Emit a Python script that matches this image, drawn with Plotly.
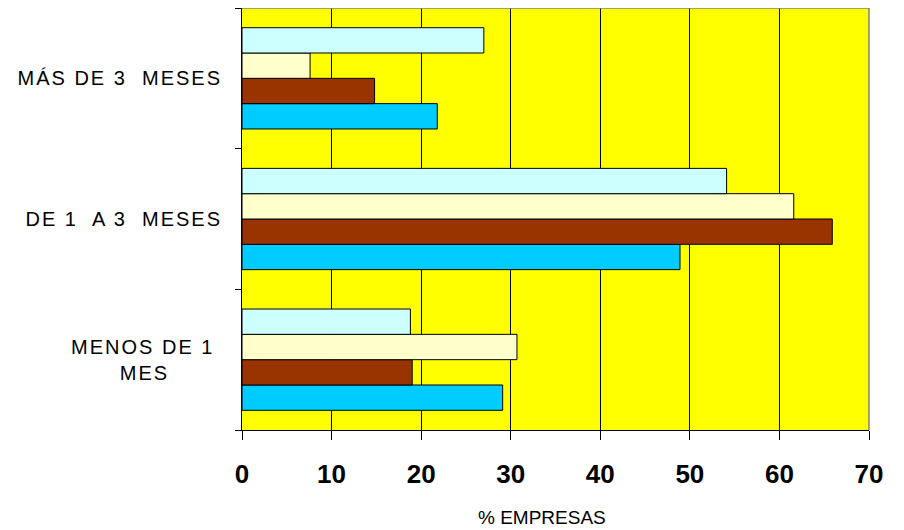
import plotly.graph_objects as go

categories = ["MENOS DE 1<br>MES", "DE 1  A 3  MESES", "MÁS DE 3  MESES"]
category_labels = ["MENOS DE 1\u00a0<br>MES" + "\u00a0" * 7, "DE 1  A 3  MESES", "MÁS DE 3  MESES"]
serie_cyan = [29.1, 48.9, 21.8]
serie_brown = [19.0, 65.9, 14.8]
serie_cream = [30.7, 61.6, 7.6]
serie_lightcyan = [18.8, 54.1, 27.0]
x_ticks = [0, 10, 20, 30, 40, 50, 60, 70]

series = [
    ("Serie 1", serie_cyan, "#00CCFF"),
    ("Serie 2", serie_brown, "#993300"),
    ("Serie 3", serie_cream, "#FFFFCC"),
    ("Serie 4", serie_lightcyan, "#CCFFFF"),
]

fig = go.Figure()
for name, vals, col in series:
    fig.add_trace(go.Bar(
        y=categories, x=vals, name=name, orientation="h",
        marker=dict(color=col, line=dict(color="#000000", width=1)),
    ))

fig.update_layout(
    width=904, height=530,
    margin=dict(l=234, r=43, t=0, b=108),
    paper_bgcolor="white",
    plot_bgcolor="#FFFF00",
    barmode="group",
    bargap=0.28,
    bargroupgap=0,
    showlegend=False,
    font=dict(family="Liberation Sans, Arial, sans-serif", color="#000000"),
)

fig.update_xaxes(
    range=[0, 70],
    tickvals=x_ticks,
    ticktext=[str(v) for v in x_ticks],
    showgrid=True, gridcolor="#000000", gridwidth=1,
    showline=True, linecolor="#000000", linewidth=1,
    ticks="outside", ticklen=9, tickcolor="#000000", tickwidth=1,
    tickfont=dict(size=26, family="Liberation Sans, Arial, sans-serif", weight="bold"),
    ticklabelstandoff=12,
    zeroline=False,
    fixedrange=True,
)

def spaced(label):
    return "<br>".join('<span style="letter-spacing:2px">' + part + "</span>" for part in label.split("<br>"))

fig.update_yaxes(
    type="category",
    categoryorder="array", categoryarray=categories,
    showgrid=False,
    showline=True, linecolor="#000000", linewidth=1,
    ticks="outside", ticklen=6, tickcolor="#000000", tickwidth=1,
    tickson="boundaries",
    tickfont=dict(size=20),
    ticklabelstandoff=15,
    labelalias={c: spaced(lbl) for c, lbl in zip(categories, category_labels)},
    fixedrange=True,
)

fig.add_annotation(
    text="% EMPRESAS", xref="paper", yref="paper",
    x=0.478, y=-0.2085, xanchor="center", yanchor="middle",
    showarrow=False, font=dict(size=19),
)

# gray plot-area frame on top and right
fig.add_shape(type="line", xref="x domain", yref="y domain", x0=0, x1=1, y0=1, y1=1,
              line=dict(color="#808080", width=1.5), layer="above")
fig.add_shape(type="line", xref="x domain", yref="y domain", x0=1, x1=1, y0=0, y1=1,
              line=dict(color="#808080", width=1.5), layer="above")

fig.write_html("out.html")
